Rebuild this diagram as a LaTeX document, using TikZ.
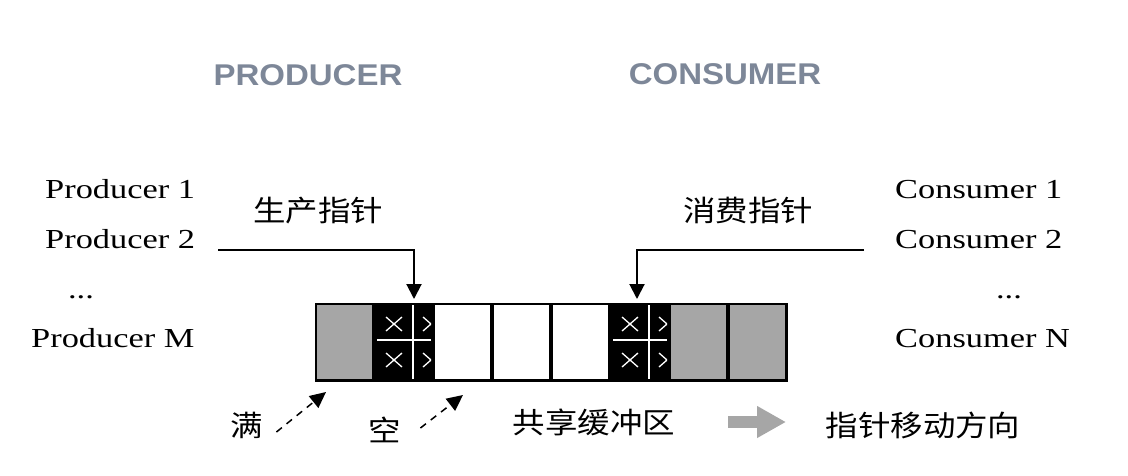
\documentclass[tikz,border=0pt]{standalone}
\usepackage{fontspec}
\setmainfont{Liberation Serif}[FakeStretch=1.25]
\newfontfamily\titlefont{Liberation Sans}[FakeStretch=1.1]
\newfontfamily\cjk{Noto Sans CJK SC}[FakeStretch=1.12]
\usepackage{tikz}
\usetikzlibrary{arrows.meta}
\usetikzlibrary{positioning,fit,backgrounds}
\usepackage{xcolor}
\definecolor{clfull}{gray}{0.65}
\definecolor{cltitle}{RGB}{125,135,152}
\tikzstyle{heading} = [font=\titlefont\bfseries\fontsize{30}{36}\selectfont, text=cltitle, inner sep=0, anchor=base]
\tikzstyle{worker} = [font=\fontsize{27.5}{32}\selectfont, inner sep=0, anchor=base west]
\tikzstyle{cnlabel} = [font=\cjk\fontsize{29}{34}\selectfont, inner sep=0, anchor=base]
\tikzstyle{slot} = [rectangle, minimum width=55pt, minimum height=74pt, inner sep=0, outer sep=0]
\tikzstyle{line} = [draw, line width=2pt, -{Triangle[width=15pt,length=15pt]}]
\tikzstyle{hint} = [draw, line width=1.5pt, dash pattern=on 7pt off 6pt, -{Triangle[width=15pt,length=16pt]}]
\tikzstyle{move} = [draw, clfull, line width=12pt, -{Triangle[width=30pt,length=29pt]}]
\tikzstyle{cross} = [draw, white, line width=1.3pt]

\begin{document}
\begin{tikzpicture}[x=1pt, y=-1pt]
    \useasboundingbox (0,0) rectangle (1128,475);

    \node [heading] (prod) at (308,85) {PRODUCER};
    \node [heading] (cons) at (725,84) {CONSUMER};

    \node [worker] (p1) at (45,198) {Producer 1};
    \node [worker] (p2) at (45,248) {Producer 2};
    \node [worker, anchor=base] (pdots) at (81,298) {...};
    \node [worker] (pm) at (31,347) {Producer M};

    \node [worker] (k1) at (895,198) {Consumer 1};
    \node [worker] (k2) at (895,248) {Consumer 2};
    \node [worker, anchor=base] (kdots) at (1009,298) {...};
    \node [worker] (kn) at (895,347) {Consumer N};

    \node [cnlabel] (pptr) at (318,221) {生产指针};
    \node [cnlabel] (cptr) at (748,221) {消费指针};

    % buffer slots
    \node [slot, fill=clfull] (c1) at (344.5,342) {};
    \node [slot, fill=black, right=4pt of c1] (c2) {};
    \node [slot, fill=white, right=4pt of c2] (c3) {};
    \node [slot, fill=white, right=4pt of c3] (c4) {};
    \node [slot, fill=white, right=4pt of c4] (c5) {};
    \node [slot, fill=black, right=4pt of c5] (c6) {};
    \node [slot, fill=clfull, right=4pt of c6] (c7) {};
    \node [slot, fill=clfull, right=4pt of c7] (c8) {};

    \begin{scope}[on background layer]
    \node [draw, line width=3pt, fill=black, inner sep=1pt, fit=(c1)(c8)] (buffer) {};
    \end{scope}

    \foreach \s in {c2,c6} {
        \begin{scope}
        \clip (\s.south west) rectangle (\s.north east);
        \draw [cross] ([xshift=37pt]\s.north west) -- ([xshift=37pt]\s.south west);
        \draw [cross] ([xshift=1pt,yshift=2pt]\s.west) -- ([yshift=2pt]\s.east);
        \foreach \dx in {18,55}
            \foreach \dy in {-18,18}
                \draw [cross] ([xshift=\dx pt, yshift=\dy pt]\s.west) +(-8,-7) -- +(8,7) +(-8,7) -- +(8,-7);
        \end{scope}
    }

    \coordinate (pstart) at (218,250);
    \coordinate (cstart) at (864,250);
    \path [line] (pstart) -| ([xshift=38pt, yshift=6pt]c2.north west);
    \path [line] (cstart) -| ([xshift=25pt, yshift=6pt]c6.north west);

    % legend
    \node [cnlabel] (full) at (247,436) {满};
    \node [cnlabel] (empty) at (385,441) {空};
    \node [cnlabel] (shared) at (594,433) {共享缓冲区};
    \node [cnlabel] (dir) at (923,436) {指针移动方向};

    \coordinate (fulltip) at ([xshift=9pt, yshift=-13pt]c1.south west);
    \coordinate (emptytip) at ([xshift=28pt, yshift=-16pt]c3.south west);
    \path [hint] ([xshift=13pt, yshift=4pt]full.base east) -- (fulltip);
    \path [hint] ([xshift=19pt, yshift=13pt]empty.base east) -- (emptytip);

    \coordinate (movetail) at (728,422);
    \coordinate (movehead) at (786,422);
    \path [move] (movetail) -- (movehead);
\end{tikzpicture}
\end{document}
